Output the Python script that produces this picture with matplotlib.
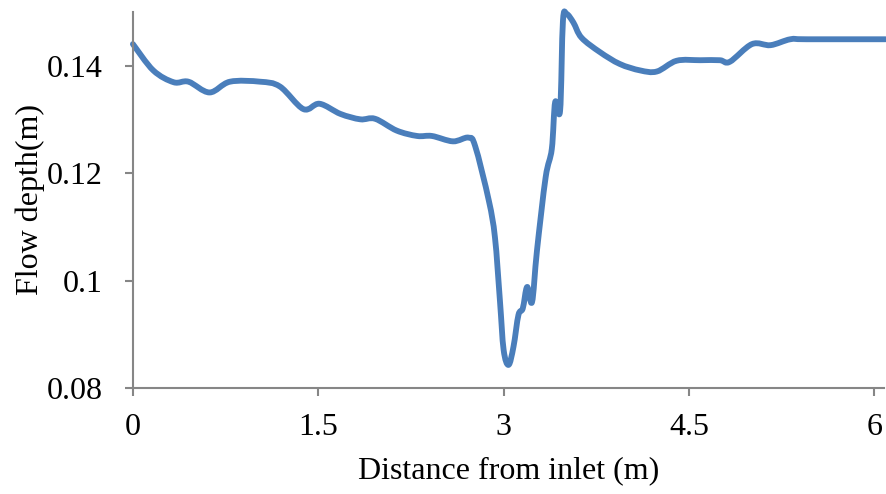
import numpy as np
import matplotlib
matplotlib.use("Agg")
import matplotlib.pyplot as plt
from matplotlib.path import Path
from matplotlib.patches import PathPatch

# distance from inlet (m) and flow depth (m)
distance = [0.0, 0.165, 0.33, 0.45, 0.62, 0.785, 1.03, 1.19, 1.38, 1.51,
            1.68, 1.84, 1.96, 2.135, 2.30, 2.42, 2.59, 2.715, 2.77, 2.88,
            2.93, 2.97, 3.00, 3.04, 3.08, 3.12, 3.155, 3.19, 3.23, 3.27,
            3.34, 3.39, 3.417, 3.457, 3.48, 3.51, 3.565, 3.63, 3.78, 3.94,
            4.105, 4.24, 4.40, 4.59, 4.75, 4.83, 5.01, 5.16, 5.32, 5.455,
            6.09]
depth = [0.1440, 0.1391, 0.1369, 0.1370, 0.1350, 0.1370, 0.1370, 0.1361, 0.1319, 0.1329,
         0.1310, 0.1300, 0.1301, 0.1279, 0.1269, 0.1269, 0.1259, 0.1266, 0.1250, 0.1149,
         0.1080, 0.0963, 0.0871, 0.0843, 0.0877, 0.0936, 0.0948, 0.0988, 0.0960, 0.1056,
         0.1192, 0.1245, 0.1332, 0.1316, 0.1483, 0.1496, 0.1480, 0.1452, 0.1425, 0.1403,
         0.1391, 0.1389, 0.1409, 0.1410, 0.1410, 0.1407, 0.1440, 0.1438, 0.1449, 0.1449,
         0.1449]

xticks = [0, 1.5, 3, 4.5, 6]
xtick_labels = ["0", "1.5", "3", "4.5", "6"]
yticks = [0.08, 0.1, 0.12, 0.14]
ytick_labels = ["0.08", "0.1", "0.12", "0.14"]


def smooth_path(xs, ys):
    # spreadsheet-style smoothed line: cubic bezier through every point
    pts = np.column_stack([xs, ys])
    n = len(pts)
    verts = [pts[0]]
    codes = [Path.MOVETO]
    for i in range(n - 1):
        p0 = pts[max(i - 1, 0)]
        p1 = pts[i]
        p2 = pts[i + 1]
        p3 = pts[min(i + 2, n - 1)]
        c1 = p1 + (p2 - p0) / 6.0
        c2 = p2 - (p3 - p1) / 6.0
        verts += [c1, c2, p2]
        codes += [Path.CURVE4] * 3
    return Path(verts, codes)


plt.rcParams['font.family'] = ['Liberation Serif', 'DejaVu Serif']

fig = plt.figure(figsize=(8.86, 4.94), dpi=100)
ax = fig.add_axes([0.150, 0.2146, 0.848, 0.7614])

ax.add_patch(PathPatch(smooth_path(distance, depth), facecolor='none',
                       edgecolor='#4a7ebb', linewidth=4.2, capstyle='round',
                       joinstyle='round', clip_on=False))

ax.set_xlim(0, 6.08)
ax.set_ylim(0.08, 0.15)
ax.set_xticks(xticks)
ax.set_xticklabels(xtick_labels)
ax.set_yticks(yticks)
ax.set_yticklabels(ytick_labels)

for side in ['top', 'right']:
    ax.spines[side].set_visible(False)
for side in ['left', 'bottom']:
    ax.spines[side].set_color('#868686')
    ax.spines[side].set_linewidth(1.5)

ax.tick_params(axis='both', colors='#868686', labelcolor='black', labelsize=23,
               length=6, width=1.5, direction='out')
ax.tick_params(axis='x', pad=12)
ax.tick_params(axis='y', pad=16)

ax.set_xlabel("Distance from inlet (m)", fontsize=23, labelpad=10)
ax.set_ylabel("Flow depth(m)", fontsize=23, labelpad=1)

fig.savefig("out.png", dpi=100)
